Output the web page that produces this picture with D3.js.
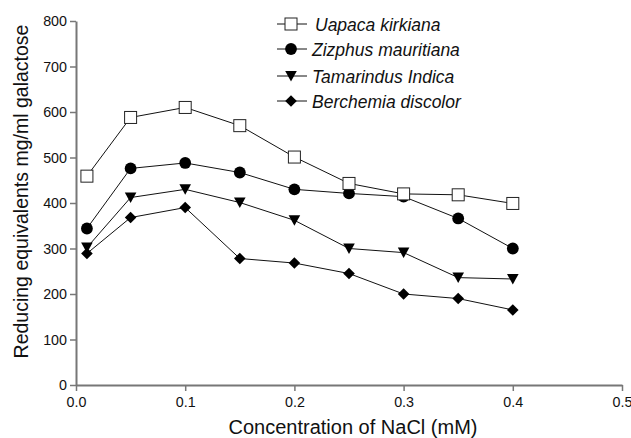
<!DOCTYPE html>
<html><head><meta charset="utf-8">
<script src="https://cdn.jsdelivr.net/npm/d3@7"></script>
<style>body{margin:0;background:#fff}svg{display:block}text{font-family:"Liberation Sans",Arial,sans-serif;fill:#111}</style>
</head><body><svg id="c" width="631" height="438"></svg>
<script>
const concentrations = [0.01, 0.05, 0.1, 0.15, 0.2, 0.25, 0.3, 0.35, 0.4];
const uapaca = [459, 588, 610, 570, 501, 443, 420, 418, 399];
const zizphus = [344, 476, 488, 467, 430, 421, 414, 366, 300];
const tamarindus = [302, 412, 430, 401, 362, 300, 291, 236, 233];
const berchemia = [289, 368, 390, 278, 268, 245, 200, 190, 165];
const seriesNames = ["Uapaca kirkiana", "Zizphus mauritiana", "Tamarindus Indica", "Berchemia discolor"];
const xTicks = [0.0, 0.1, 0.2, 0.3, 0.4, 0.5];
const yTicks = [0, 100, 200, 300, 400, 500, 600, 700, 800];

const series = [
  {name: seriesNames[0], values: uapaca, shape: "square"},
  {name: seriesNames[1], values: zizphus, shape: "circle"},
  {name: seriesNames[2], values: tamarindus, shape: "triangle"},
  {name: seriesNames[3], values: berchemia, shape: "diamond"}
];

const svg = d3.select("#c");
const x = d3.scaleLinear().domain([0, 0.5]).range([76, 622]);
const y = d3.scaleLinear().domain([0, 800]).range([385, 21]);
const axisColor = "#777";

const xa = svg.append("g").attr("transform", "translate(0,385)")
  .call(d3.axisBottom(x).tickValues(xTicks).tickFormat(d3.format(".1f")).tickSize(6).tickSizeOuter(0));
const ya = svg.append("g").attr("transform", "translate(76,0)")
  .call(d3.axisLeft(y).tickValues(yTicks).tickFormat(d3.format("d")).tickSize(6).tickSizeOuter(0));
[xa, ya].forEach(a => {
  a.select(".domain").attr("stroke", axisColor).attr("stroke-width", 2);
  a.selectAll(".tick line").attr("stroke", axisColor).attr("stroke-width", 1.5);
  a.selectAll(".tick text").attr("font-size", 14.3).attr("fill", "#111")
    .attr("font-family", "'Liberation Sans',Arial,sans-serif");
});
xa.selectAll(".tick text").attr("dy", "0.88em");

svg.append("text").attr("x", 353).attr("y", 434).attr("text-anchor", "middle")
  .attr("font-size", 20).text("Concentration of NaCl (mM)");
svg.append("text").attr("transform", "translate(28,191.5) rotate(-90)").attr("text-anchor", "middle")
  .attr("font-size", 19.5).text("Reducing equivalents mg/ml galactose");

function drawMarker(g, shape, cx, cy) {
  if (shape === "square") {
    g.append("rect").attr("x", cx - 6).attr("y", cy - 6).attr("width", 12).attr("height", 12)
      .attr("fill", "#fff").attr("stroke", "#222").attr("stroke-width", 1);
  } else if (shape === "circle") {
    g.append("circle").attr("cx", cx).attr("cy", cy).attr("r", 5.9).attr("fill", "#000");
  } else if (shape === "triangle") {
    g.append("path").attr("d", `M${cx-5.8},${cy-5}L${cx+5.8},${cy-5}L${cx},${cy+5.5}Z`).attr("fill", "#000");
  } else {
    g.append("path").attr("d", `M${cx},${cy-5.8}L${cx+5.8},${cy}L${cx},${cy+5.8}L${cx-5.8},${cy}Z`).attr("fill", "#000");
  }
}

const line = d3.line().x(d => x(d[0])).y(d => y(d[1]));
series.slice().reverse().forEach(s => {
  const pts = concentrations.map((c, i) => [c, s.values[i]]);
  svg.append("path").attr("d", line(pts)).attr("fill", "none").attr("stroke", "#111").attr("stroke-width", 1);
});
series.slice().reverse().forEach(s => {
  const g = svg.append("g");
  concentrations.forEach((c, i) => drawMarker(g, s.shape, x(c), y(s.values[i])));
});

const legY = [24, 49, 76, 101];
series.forEach((s, i) => {
  const g = svg.append("g");
  g.append("line").attr("x1", 277).attr("x2", 307).attr("y1", legY[i]).attr("y2", legY[i])
    .attr("stroke", "#111").attr("stroke-width", 1);
  drawMarker(g, s.shape, 291, legY[i]);
  g.append("text").attr("x", i === 0 ? 315 : 312).attr("y", legY[i] + 6.5).attr("font-size", 17.5)
    .attr("font-style", "italic").text(s.name);
});
</script></body></html>
